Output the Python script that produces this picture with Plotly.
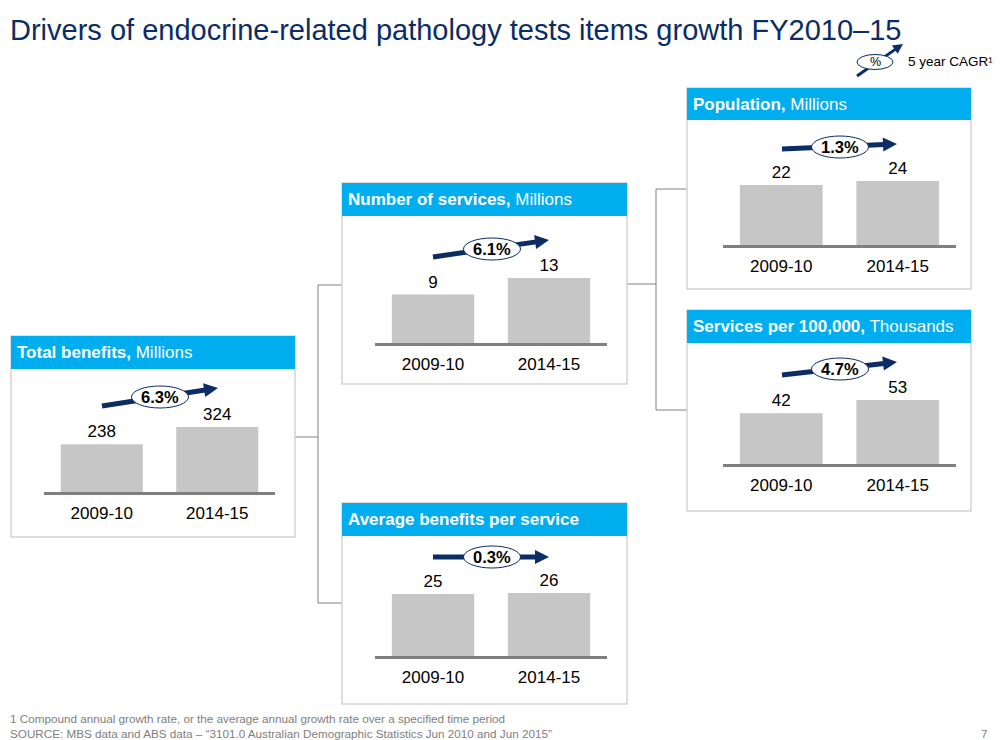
import plotly.graph_objects as go

W, H = 1001, 740
OFF = 8  # page body margin in the browser

# ---------------- data ----------------
categories = ["2009-10", "2014-15"]
total_benefits = [238, 324]
number_of_services = [9.4, 12.6]
population = [22.3, 23.8]
services_per_100k = [42.1, 53.0]
avg_benefits_per_service = [25.4, 25.8]
cagr_labels = ["6.3%", "6.1%", "1.3%", "4.7%", "0.3%"]
panel_titles = [
    "<b>Total benefits,</b> Millions",
    "<b>Number of services,</b> Millions",
    "<b>Population,</b> Millions",
    "<b>Services per 100,000,</b> Thousands",
    "<b>Average benefits per service</b>",
]
series = [total_benefits, number_of_services, population,
          services_per_100k, avg_benefits_per_service]

title_text = "Drivers of endocrine-related pathology tests items growth FY2010\u201315"
legend_text = "5 year CAGR\u00b9"
footnote_1 = "1 Compound annual growth rate, or the average annual growth rate over a specified time period"
footnote_2 = "SOURCE: MBS data and ABS data \u2013 \u201c3101.0 Australian Demographic Statistics Jun 2010 and Jun 2015\u201d"
page_number = "7"

# ---------------- layout (pixels, screen coordinates) ----------------
panels_px = [
    dict(box=(11, 336, 295, 537), hb=369, ax=(44, 275), base=492, hmax=65,
         arrow=((102, 406), (218, 388)), ell=(160, 397)),
    dict(box=(342, 183, 627, 384), hb=216, ax=(375, 607), base=343, hmax=65,
         arrow=((433, 257), (549, 240)), ell=(492, 249)),
    dict(box=(687, 88, 971, 289), hb=120, ax=(723, 956), base=245, hmax=64,
         arrow=((782, 149), (897, 144)), ell=(840, 147)),
    dict(box=(687, 310, 971, 511), hb=343, ax=(723, 956), base=464, hmax=64,
         arrow=((782, 375), (897, 362)), ell=(840, 369)),
    dict(box=(342, 503, 627, 704), hb=536, ax=(375, 607), base=656, hmax=63,
         arrow=((433, 557), (549, 557)), ell=(492, 557)),
]

NAVY = "#0B2C64"
BLUE = "#00AEEF"
BAR = "#C6C6C6"
BASE = "#7F7F7F"
BORDER = "#D3D3D3"
FONT = "Liberation Sans, Arial, sans-serif"


def X(px):
    return (px - OFF) / W


def Y(py):
    return 1 - (py - OFF) / H


fig = go.Figure()
shapes = []
annotations = []


def arrow(start, tip, width, head_len, head_half):
    (sx, sy), (tx, ty) = start, tip
    dx, dy = tx - sx, ty - sy
    ln = (dx * dx + dy * dy) ** 0.5
    ux, uy = dx / ln, dy / ln
    bx, by = tx - ux * head_len, ty - uy * head_len
    nx, ny = -uy, ux
    shapes.append(dict(type="line", xref="paper", yref="paper",
                       x0=X(sx), y0=Y(sy), x1=X(bx + ux), y1=Y(by + uy),
                       line=dict(color=NAVY, width=width)))
    p1 = (bx + nx * head_half, by + ny * head_half)
    p2 = (bx - nx * head_half, by - ny * head_half)
    path = (f"M {X(tx)},{Y(ty)} L {X(p1[0])},{Y(p1[1])} "
            f"L {X(p2[0])},{Y(p2[1])} Z")
    shapes.append(dict(type="path", xref="paper", yref="paper", path=path,
                       fillcolor=NAVY, line=dict(color=NAVY, width=0)))


def ellipse(cx, cy, w, h):
    shapes.append(dict(type="circle", xref="paper", yref="paper",
                       x0=X(cx - w / 2), x1=X(cx + w / 2),
                       y0=Y(cy + h / 2), y1=Y(cy - h / 2),
                       fillcolor="white", line=dict(color=NAVY, width=1)))


def hline(x0, x1, y):
    shapes.append(dict(type="line", xref="paper", yref="paper", layer="below",
                       x0=X(x0), x1=X(x1), y0=Y(y), y1=Y(y),
                       line=dict(color="#808080", width=1)))


def vline(x, y0, y1):
    shapes.append(dict(type="line", xref="paper", yref="paper", layer="below",
                       x0=X(x), x1=X(x), y0=Y(y0), y1=Y(y1),
                       line=dict(color="#808080", width=1)))


# connectors
hline(295, 318, 437)
vline(318, 285, 603)
hline(318, 342, 285)
hline(318, 342, 603)
hline(627, 656, 284)
vline(656, 189, 410)
hline(656, 687, 189)
hline(656, 687, 410)

layout_axes = {}
for i, (vals, p) in enumerate(zip(series, panels_px)):
    n = i + 1
    xa = "x" if n == 1 else f"x{n}"
    ya = "y" if n == 1 else f"y{n}"
    left, top, right, bottom = p["box"]
    # box + header
    shapes.append(dict(type="rect", xref="paper", yref="paper", layer="below",
                       x0=X(left), x1=X(right), y0=Y(bottom), y1=Y(top),
                       fillcolor="white", line=dict(color=BORDER, width=1.5)))
    shapes.append(dict(type="rect", xref="paper", yref="paper", layer="below",
                       x0=X(left), x1=X(right), y0=Y(p["hb"]), y1=Y(top),
                       fillcolor=BLUE, line=dict(width=0)))
    annotations.append(dict(xref="paper", yref="paper", x=X(left + 4),
                            y=Y((top + p["hb"]) / 2), xanchor="left",
                            yanchor="middle", showarrow=False,
                            text=panel_titles[i],
                            font=dict(family=FONT, size=17, color="white")))
    # bars
    fig.add_trace(go.Bar(x=categories, y=vals, xaxis=xa, yaxis=ya,
                         marker=dict(color=BAR, line=dict(width=0)),
                         text=vals, texttemplate="%{y:.0f}",
                         textposition="outside", cliponaxis=False,
                         textfont=dict(family=FONT, size=17, color="black"),
                         hoverinfo="skip", showlegend=False))
    yrange_top = max(vals) * (p["base"] - p["hb"]) / p["hmax"]
    layout_axes["xaxis" if n == 1 else f"xaxis{n}"] = dict(
        type="category", automargin=False,
        domain=[X(p["ax"][0]), X(p["ax"][1])], anchor=ya,
        showline=True, linecolor=BASE, linewidth=3, ticks="",
        showgrid=False, zeroline=False, ticklabelstandoff=4,
        tickfont=dict(family=FONT, size=17, color="black"), fixedrange=True)
    layout_axes["yaxis" if n == 1 else f"yaxis{n}"] = dict(
        domain=[Y(p["base"]), Y(p["hb"])], anchor=xa, automargin=False,
        range=[0, yrange_top], visible=False, fixedrange=True)
    # CAGR arrow + ellipse
    arrow(p["arrow"][0], p["arrow"][1], 5, 14, 7)
    cx, cy = p["ell"]
    ellipse(cx, cy, 57, 22)
    annotations.append(dict(xref="paper", yref="paper", x=X(cx), y=Y(cy),
                            xanchor="center", yanchor="middle", showarrow=False,
                            text=f"<b>{cagr_labels[i]}</b>",
                            font=dict(family=FONT, size=16.5, color="black")))

# legend
arrow((857, 76), (903, 44), 3, 10, 5)
ellipse(875, 62, 36, 15)
annotations.append(dict(xref="paper", yref="paper", x=X(875), y=Y(62),
                        xanchor="center", yanchor="middle", showarrow=False,
                        text="%", font=dict(family=FONT, size=12.5, color="black")))
annotations.append(dict(xref="paper", yref="paper", x=X(906), y=Y(61),
                        xanchor="left", yanchor="middle", showarrow=False,
                        text=legend_text,
                        font=dict(family=FONT, size=13.5, color="black")))

# title
annotations.append(dict(xref="paper", yref="paper", x=X(8), y=Y(30),
                        xanchor="left", yanchor="middle", showarrow=False,
                        text=title_text,
                        font=dict(family=FONT, size=29, color=NAVY)))

# footnotes
annotations.append(dict(xref="paper", yref="paper", x=X(8), y=Y(718),
                        xanchor="left", yanchor="middle", showarrow=False,
                        text=footnote_1,
                        font=dict(family=FONT, size=11.7, color="#808080")))
annotations.append(dict(xref="paper", yref="paper", x=X(8), y=Y(733),
                        xanchor="left", yanchor="middle", showarrow=False,
                        text=footnote_2,
                        font=dict(family=FONT, size=11.7, color="#808080")))
annotations.append(dict(xref="paper", yref="paper", x=X(990), y=Y(733),
                        xanchor="right", yanchor="middle", showarrow=False,
                        text=page_number,
                        font=dict(family=FONT, size=11.7, color="#808080")))

fig.update_layout(
    width=W, height=H, margin=dict(l=0, r=0, t=0, b=0, autoexpand=False),
    paper_bgcolor="white", plot_bgcolor="rgba(0,0,0,0)",
    bargap=0.29, showlegend=False,
    shapes=shapes, annotations=annotations,
    font=dict(family=FONT),
    **layout_axes,
)

fig.write_html("out.html", config={"displayModeBar": False})
